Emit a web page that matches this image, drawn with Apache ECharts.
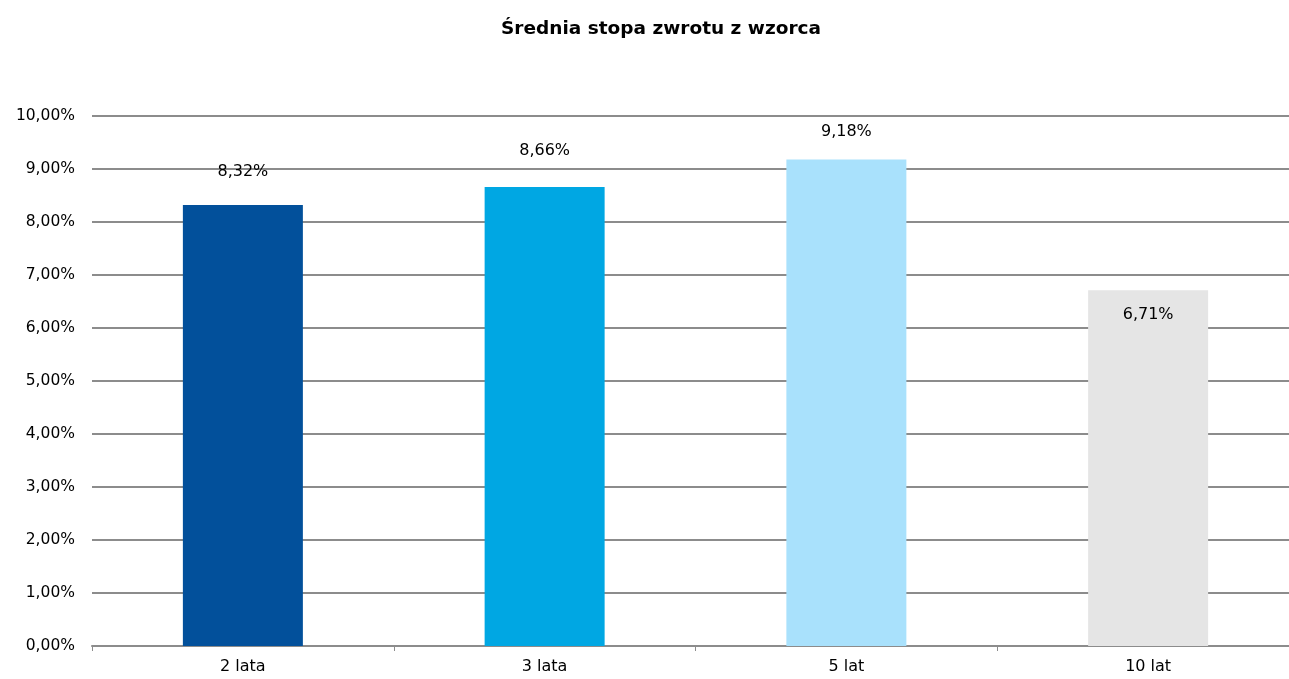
<!DOCTYPE html>
<html><head><meta charset="utf-8">
<script src="https://cdn.jsdelivr.net/npm/echarts@6/dist/echarts.min.js"></script>
<style>html,body{margin:0;padding:0;background:#fff;overflow:hidden;width:1289px;height:679px}#c{width:1299px;height:679px}</style>
</head><body><div id="c"></div>
<script>
const categories = ['2 lata', '3 lata', '5 lat', '10 lat'];
const values = [8.32, 8.66, 9.18, 6.71];
const colors = ['#02509B', '#00A7E3', '#A9E1FC', '#E5E5E5'];
const labelOffsets = [[0, -20], [0, -23], [0, -15], [0, 37]];
const yTicks = [0, 1, 2, 3, 4, 5, 6, 7, 8, 9, 10];

const fmt = v => v.toFixed(2).replace('.', ',') + '%';
const chart = echarts.init(document.getElementById('c'));
chart.setOption({
  animation: false,
  title: {
    text: 'Średnia stopa zwrotu z wzorca',
    left: 656, top: 15, textAlign: 'center',
    textStyle: { fontFamily: 'DejaVu Sans', fontWeight: 'bold', fontSize: 18.5, color: '#000' }
  },
  grid: { left: 92, right: 0, top: 116, bottom: 33, containLabel: false },
  xAxis: {
    type: 'category', data: categories,
    axisLine: { lineStyle: { color: '#8C8C8C', width: 2 } },
    axisTick: { show: true, length: 5, lineStyle: { color: '#8C8C8C', width: 1 } },
    axisLabel: { color: '#000', fontFamily: 'DejaVu Sans', fontSize: 16, margin: 13 }
  },
  yAxis: {
    type: 'value', min: yTicks[0], max: yTicks[yTicks.length - 1], interval: 1,
    axisLine: { show: false }, axisTick: { show: false },
    splitLine: { lineStyle: { color: '#8C8C8C', width: 2 } },
    axisLabel: { color: '#000', fontFamily: 'DejaVu Sans', fontSize: 15.5, margin: 17, formatter: fmt }
  },
  series: [{
    type: 'bar', barWidth: 120,
    data: values.map((v, i) => ({
      value: v,
      itemStyle: { color: colors[i] },
      label: { show: true, position: 'top', offset: labelOffsets[i] }
    })),
    label: { color: '#000', fontFamily: 'DejaVu Sans', fontSize: 16, formatter: p => fmt(p.value) }
  }]
});
</script></body></html>
